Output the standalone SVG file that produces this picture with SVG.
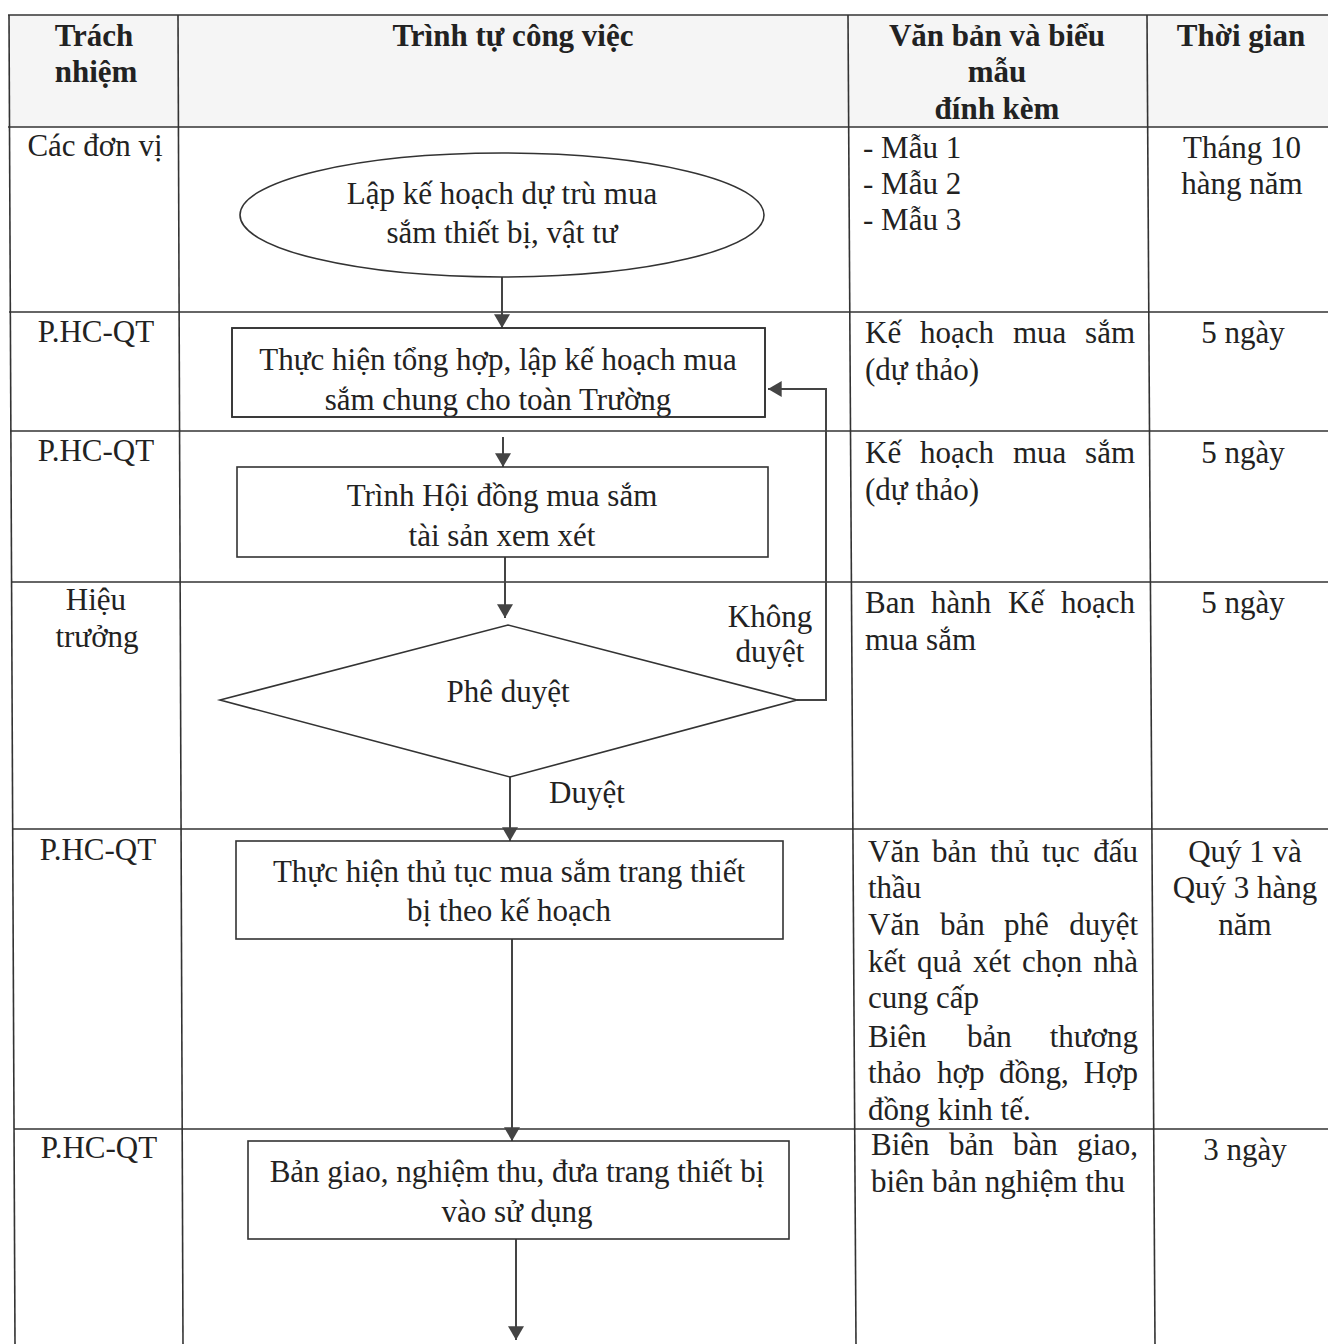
<svg xmlns="http://www.w3.org/2000/svg" width="1328" height="1344" viewBox="0 0 1328 1344">
<style>
.t{font-family:"Liberation Serif","Times New Roman",serif;font-size:31px;fill:#222}
.b{font-weight:bold}
.m{text-anchor:middle}
.e{text-anchor:end}
.grid{stroke:#333;stroke-width:1.6;fill:none}
.shape{stroke:#333;stroke-width:1.6;fill:#fff}
.conn{stroke:#444;stroke-width:2;fill:none}
</style>
<defs>
<marker id="ah" viewBox="0 0 12 14" refX="12" refY="7" markerWidth="14" markerHeight="16" markerUnits="userSpaceOnUse" orient="auto">
<path d="M0,0 L12,7 L0,14 Z" fill="#444"/>
</marker>
<clipPath id="clip1"><rect x="232" y="328" width="533" height="89"/></clipPath>
</defs>
<rect x="0" y="0" width="1328" height="1344" fill="#fff"/>
<g id="table">
<rect x="9" y="15" width="1319" height="112" fill="#f5f5f5"/>
<line class="grid" x1="8" y1="15" x2="1328" y2="15"/>
<line class="grid" x1="8" y1="127" x2="1328" y2="127"/>
<line class="grid" x1="9" y1="312" x2="1328" y2="312"/>
<line class="grid" x1="10" y1="431" x2="1328" y2="431"/>
<line class="grid" x1="11" y1="582" x2="1328" y2="582"/>
<line class="grid" x1="12" y1="829" x2="1328" y2="829"/>
<line class="grid" x1="14" y1="1129" x2="1328" y2="1129"/>
<line class="grid" x1="9" y1="15" x2="15" y2="1344"/>
<line class="grid" x1="178" y1="15" x2="183" y2="1344"/>
<line class="grid" x1="848" y1="15" x2="856" y2="1344"/>
<line class="grid" x1="1147" y1="15" x2="1155" y2="1344"/>
</g>
<g id="header">
<text class="t b m" x="94" y="46">Trách</text>
<text class="t b m" x="96" y="82">nhiệm</text>
<text class="t b m" x="513" y="46">Trình tự công việc</text>
<text class="t b m" x="997" y="46">Văn bản và biểu</text>
<text class="t b m" x="997" y="82">mẫu</text>
<text class="t b m" x="997" y="119">đính kèm</text>
<text class="t b m" x="1241" y="46">Thời gian</text>
</g>
<g id="col-trachnhiem">
<text class="t m" x="95" y="156">Các đơn vị</text>
<text class="t m" x="96" y="342">P.HC-QT</text>
<text class="t m" x="96" y="461">P.HC-QT</text>
<text class="t m" x="96" y="610">Hiệu</text>
<text class="t m" x="97" y="647">trưởng</text>
<text class="t m" x="98" y="860">P.HC-QT</text>
<text class="t m" x="99" y="1158">P.HC-QT</text>
</g>
<g id="col-vanban">
<text class="t" x="863" y="158">- Mẫu 1</text>
<text class="t" x="863" y="194">- Mẫu 2</text>
<text class="t" x="863" y="230">- Mẫu 3</text>
<text class="t" y="343"><tspan x="865">Kế</tspan><tspan x="920">hoạch</tspan><tspan x="1013">mua</tspan></text>
<text class="t e" x="1135" y="343">sắm</text>
<text class="t" x="865" y="380">(dự thảo)</text>
<text class="t" y="463"><tspan x="865">Kế</tspan><tspan x="920">hoạch</tspan><tspan x="1013">mua</tspan></text>
<text class="t e" x="1135" y="463">sắm</text>
<text class="t" x="865" y="500">(dự thảo)</text>
<text class="t" y="613"><tspan x="865">Ban</tspan><tspan x="931">hành</tspan><tspan x="1008">Kế</tspan></text>
<text class="t e" x="1135" y="613">hoạch</text>
<text class="t" x="865" y="650">mua sắm</text>
<text class="t" y="862"><tspan x="868">Văn</tspan><tspan x="932">bản</tspan><tspan x="990">thủ</tspan><tspan x="1042">tục</tspan></text>
<text class="t e" x="1138" y="862">đấu</text>
<text class="t" x="868" y="898">thầu</text>
<text class="t" y="935"><tspan x="868">Văn</tspan><tspan x="940">bản</tspan><tspan x="1004">phê</tspan></text>
<text class="t e" x="1138" y="935">duyệt</text>
<text class="t" y="972"><tspan x="868">kết</tspan><tspan x="917">quả</tspan><tspan x="973">xét</tspan><tspan x="1022">chọn</tspan></text>
<text class="t e" x="1138" y="972">nhà</text>
<text class="t" x="868" y="1008">cung cấp</text>
<text class="t" y="1047"><tspan x="868">Biên</tspan><tspan x="967">bản</tspan></text>
<text class="t e" x="1138" y="1047">thương</text>
<text class="t" y="1083"><tspan x="868">thảo</tspan><tspan x="937">hợp</tspan><tspan x="999">đồng,</tspan></text>
<text class="t e" x="1138" y="1083">Hợp</text>
<text class="t" x="868" y="1120">đồng kinh tế.</text>
<text class="t" y="1155"><tspan x="871">Biên</tspan><tspan x="949">bản</tspan><tspan x="1013">bàn</tspan></text>
<text class="t e" x="1138" y="1155">giao,</text>
<text class="t" x="871" y="1192">biên bản nghiệm thu</text>
</g>
<g id="col-thoigian">
<text class="t m" x="1242" y="158">Tháng 10</text>
<text class="t m" x="1242" y="194">hàng năm</text>
<text class="t m" x="1243" y="343">5 ngày</text>
<text class="t m" x="1243" y="463">5 ngày</text>
<text class="t m" x="1243" y="613">5 ngày</text>
<text class="t m" x="1245" y="862">Quý 1 và</text>
<text class="t m" x="1245" y="898">Quý 3 hàng</text>
<text class="t m" x="1245" y="935">năm</text>
<text class="t m" x="1245" y="1160">3 ngày</text>
</g>
<g id="connectors">
<line class="conn" x1="502" y1="277" x2="502" y2="328" marker-end="url(#ah)"/>
<line class="conn" x1="503" y1="437" x2="503" y2="467" marker-end="url(#ah)"/>
<line class="conn" x1="505" y1="557" x2="505" y2="618" marker-end="url(#ah)"/>
<polyline class="conn" points="797,700 826,700 826,389 768,389" marker-end="url(#ah)"/>
<line class="conn" x1="510" y1="777" x2="510" y2="841" marker-end="url(#ah)"/>
<line class="conn" x1="512" y1="939" x2="512" y2="1141" marker-end="url(#ah)"/>
<line class="conn" x1="516" y1="1239" x2="516" y2="1340" marker-end="url(#ah)"/>
<text class="t m" x="770" y="627">Không</text>
<text class="t m" x="770" y="662">duyệt</text>
<text class="t" x="549" y="803">Duyệt</text>
</g>
<g id="node-laplkehoach">
<ellipse class="shape" cx="502" cy="215" rx="262" ry="62"/>
<text class="t m" x="502" y="204">Lập kế hoạch dự trù mua</text>
<text class="t m" x="502" y="243">sắm thiết bị, vật tư</text>
</g>
<g id="node-tonghop">
<rect class="shape" x="232" y="328" width="533" height="89"/>
<g clip-path="url(#clip1)">
<text class="t m" x="498" y="370">Thực hiện tổng hợp, lập kế hoạch mua</text>
<text class="t m" x="498" y="410">sắm chung cho toàn Trường</text>
</g>
<rect x="232" y="328" width="533" height="89" fill="none" stroke="#333" stroke-width="1.6"/>
</g>
<g id="node-trinh">
<rect class="shape" x="237" y="467" width="531" height="90"/>
<text class="t m" x="502" y="506">Trình Hội đồng mua sắm</text>
<text class="t m" x="502" y="546">tài sản xem xét</text>
</g>
<g id="node-pheduyet">
<polygon class="shape" points="220,700 508,625 797,700 510,777"/>
<text class="t m" x="508" y="702">Phê duyệt</text>
</g>
<g id="node-thuctuc">
<rect class="shape" x="236" y="841" width="547" height="98"/>
<text class="t m" x="509" y="882">Thực hiện thủ tục mua sắm trang thiết</text>
<text class="t m" x="509" y="921">bị theo kế hoạch</text>
</g>
<g id="node-bangiao">
<rect class="shape" x="248" y="1141" width="541" height="98"/>
<text class="t m" x="517" y="1182">Bản giao, nghiệm thu, đưa trang thiết bị</text>
<text class="t m" x="517" y="1222">vào sử dụng</text>
</g>
</svg>
